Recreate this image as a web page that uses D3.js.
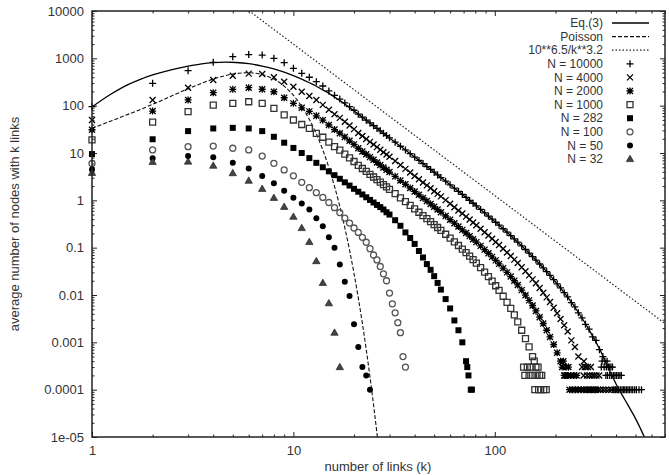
<!DOCTYPE html>
<html>
<head>
<meta charset="utf-8">
<script src="https://cdn.jsdelivr.net/npm/d3@7"></script>
<style>
  body { margin: 0; background: #fff; }
  svg { display: block; }
</style>
</head>
<body>
<div id="chart"></div>
<script>
// degree distributions, values (log-log)
var kGrid = [1,2,3,4,5,6,7,8,9,10,11,12,13,14,15,16,17,18,19,20,21,22,23,24,25,26,27,28,29,30,
  32,34,36,38,40,42,44,46,48,50,52,54,57,60,63,66,69,72,75,78,81,85,89,93,97,101,105,110,115,120,
  125,130,136,142,148,154,160,167,174,181,188,196,204,212,221,230,240,250,260,271,282,294,306,318,331,344];

var n10000 = [95,297,548,824,1083,1200,1170,1000,809,615, 483,398,321,260,205,165,138,114,95,80,
  66.2,57,49.4,43.1,37.8,33.2,29.4,26.1,23.3,20.9, 16.9,13.9,11.6,9.7,8.2,6.98,5.98,5.16,4.5,3.93,
  3.44,3.03,2.54,2.13,1.81,1.55,1.33,1.15,0.995,0.867, 0.76,0.643,0.545,0.466,0.399,0.344,0.298,0.251,0.212,0.179,
  0.153,0.131,0.109,0.0914,0.0767,0.0647,0.0548,0.0452,0.0374,0.0311, 0.0259,0.0211,0.0172,0.0141,0.0112,0.0091,0.0069,0.0056,0.0042,0.0033,
  0.0024,0.0019,0.0013,0.0011,0.0007,0.0005];
var n4000 = [50,132,240,348,430,475,465,398,321,251, 197,160,132,104,82,66,55.2,45.6,38,32,
  26.5,22.8,19.8,17.2,15.1,13.3,11.7,10.4,9.33,8.36, 6.78,5.56,4.62,3.87,3.27,2.79,2.39,2.07,1.8,1.56,
  1.37,1.21,1.01,0.847,0.716,0.612,0.525,0.453,0.392,0.34, 0.298,0.251,0.212,0.18,0.154,0.132,0.114,0.0946,0.0793,0.0664,
  0.0558,0.0473,0.0386,0.0317,0.026,0.0214,0.0177,0.0141,0.0112,0.0089, 0.0071,0.0054,0.0041,0.0031,0.0023,0.0017,0.0011,0.0008,0.0005,0.0003];
var n2000 = [31,77,132,188,221,240,222,197,147,112, 90,75.7,61,49.4,39,31.3,26.2,21.7,18.1,15.2,
  12.6,10.8,9.4,8.18,7.18,6.31,5.57,4.95,4.43,3.96, 3.21,2.62,2.18,1.82,1.54,1.31,1.12,0.966,0.839,0.73,
  0.638,0.561,0.467,0.39,0.329,0.279,0.238,0.204,0.175,0.151, 0.131,0.109,0.0908,0.0762,0.064,0.0538,0.0455,0.037,0.0301,0.0245,
  0.02,0.0163,0.0127,0.0099,0.0077,0.006,0.0046,0.0034,0.0025,0.0018, 0.0013,0.0009,0.0006,0.0004,0.0002];
var n1000 = [19,45,75,103,112,121,112,88,63.6,49.8, 40,33,26,21.5,17,13.7,11.5,9.46,7.89,6.62,
  5.48,4.71,4.08,3.55,3.11,2.73,2.42,2.15,1.92,1.71, 1.39,1.13,0.94,0.785,0.661,0.56,0.477,0.41,0.354,0.307,
  0.267,0.233,0.192,0.159,0.132,0.111,0.0929,0.0783,0.066,0.0557, 0.0472,0.038,0.0305,0.0245,0.0196,0.0157,0.0125,0.0094,0.007,0.0052,
  0.0038,0.0027,0.0018,0.0012,0.0008,0.0005];
var n282 = [9.5,19.5,29,33,34,33,29,22,16.5,12.8, 10,7.8,6.2,5,4.1,3.4,2.85,2.4,2.05,1.75,
  1.52,1.33,1.16,1.02,0.9,0.8,0.72,0.64,0.56,0.5, 0.38,0.29,0.21,0.16,0.12,0.085,0.062,0.045,0.034,0.025,
  0.018,0.013,0.0082,0.0052,0.0029,0.0018,0.001,0.0004];
// small networks: one value per k = 1, 2, 3, ...
var n100 = [6,11.6,13.6,14,12.6,11.6,8.6,6.05,4.4,3.3, 2.4,1.85,1.45,1.15,0.9,0.7,0.55,0.42,0.33,0.26,
  0.21,0.165,0.13,0.095,0.07,0.055,0.04,0.028,0.02,0.011, 0.0065,0.0042,0.0026,0.0016,0.0005,0.0003];
var n50 = [4.5,7.7,8.6,8.1,6.2,4.7,3.25,2.3,1.6,1.13, 0.86,0.64,0.42,0.285,0.166,0.1,0.044,0.019,0.0095,0.0024,
  0.0008,0.0003,0.0002,0.0001];
var n32 = [3.8,6.5,6.6,5.4,3.75,2.6,1.75,1.13,0.73,0.45, 0.26,0.132,0.052,0.018,0.0067,0.0016,0.0003];

// sparse tails: k values found at 1e-4, 2e-4, 3e-4, 4e-4
var tail10000 = [[390,398,405,412,420,428,435,442,450,458,466,475,484,495,505,520,535],
  [356,363,372,380,388,395,402,410,418,425], [338,349,358,366,370,377,384], [341,352,361]];
var tail4000 = [[292,302,310,318,326,334,345,356,368,380,395],
  [276,287,296,305,312,320,330], [280,283,290,300], [277]];
var tail2000 = [[235,243,251,260,268,277,288,300,315], [224,230,238,246,255], [216,226,232], [219]];
var tail1000 = [[158,165,169,175,180], [141,148,154,162,167,171], [139,145,151,160,164], [157]];
var tail282 = [[76,77], [74], [73]];

// curves
var kEq3 = [1,1.25,1.5,1.75,2,2.5,3,3.5,4,4.6,5.2,6,7,8,9,10,11,12,13,14,15,16,17,18,20,22,25,28,32,36,
  40,45,50,57,66,75,85,97,110,125,142,160,181,204,230,260,294,331,372,400,430,460,500,560];
var vEq3 = [94,178,275,365,445,580,685,765,810,830,817,771,687,596,511,431,364,305,257,215,182,153,129,108.6,77.5,
  57,37.8,26.1,16.9,11.6,8.2,5.56,3.93,2.54,1.55,0.995,0.643,0.399,0.251,0.153,0.0914,0.0548,0.0311,0.0172,0.00897,
  0.00427,0.00184,0.00073,0.00025,0.000132,0.000076,0.000046,0.0000245,0.0000089];
var kPoisson = [1,2,3,4,5,6,7,8,9,10,11,12,13,14,15,16,17,18,19,20,21,22,23,24,25,26,27];
var vPoisson = [33.3,106.6,227.4,363.9,465.8,496.8,454.2,363.4,258.4,165.4,96.2,51.3,25.3,11.55,4.93,1.97,
  0.742,0.264,0.0889,0.0284,0.00867,0.00252,0.000702,0.000187,0.0000479,0.0000118,0.0000028];
var kFit = [6, 700];
var vFit = [10230, 0.00249];

var yTickValues = [1e-5,1e-4,1e-3,1e-2,1e-1,1,10,100,1000,10000];
var yTickLabels = ['1e-05','0.0001','0.001','0.01','0.1','1','10','100','1000','10000'];
var xTickValues = [1,10,100];
var xTickLabels = ['1','10','100'];

var W = 669, H = 475;
var FONT = '"Liberation Sans", Arial, Helvetica, sans-serif';

var x = d3.scaleLog().domain([1, 700]).range([92, 665]);
var y = d3.scaleLog().domain([1e-5, 1e4]).range([437, 11]);

var svg = d3.select('#chart').append('svg')
    .attr('width', W)
    .attr('height', H)
    .attr('font-family', FONT);

svg.append('clipPath').attr('id', 'plotclip')
  .append('rect')
    .attr('x', 92).attr('y', 11)
    .attr('width', 665 - 92).attr('height', 437 - 11);

function isDecade(d) {
  var l = Math.log10(d);
  return Math.abs(l - Math.round(l)) < 1e-6;
}
var xMinor = x.ticks().filter(function(d) { return !isDecade(d); });
var yMinor = y.ticks().filter(function(d) { return !isDecade(d); });

function styleAxis(g) {
  g.select('.domain').remove();
  g.selectAll('line').attr('stroke', '#222').attr('stroke-width', 1);
  g.selectAll('text').attr('fill', '#333');
  g.attr('font-size', 13).attr('font-family', FONT);
}

// left + bottom, with labels
svg.append('g').attr('transform', 'translate(92,0)')
  .call(d3.axisLeft(y).tickValues(yTickValues).tickSize(-5).tickPadding(8)
    .tickFormat(function(d, i) { return yTickLabels[i]; }))
  .call(styleAxis);
svg.append('g').attr('transform', 'translate(92,0)')
  .call(d3.axisLeft(y).tickValues(yMinor).tickSize(-2.5).tickFormat(''))
  .call(styleAxis);
svg.append('g').attr('transform', 'translate(0,437)')
  .call(d3.axisBottom(x).tickValues(xTickValues).tickSize(-5).tickPadding(9)
    .tickFormat(function(d, i) { return xTickLabels[i]; }))
  .call(styleAxis);
svg.append('g').attr('transform', 'translate(0,437)')
  .call(d3.axisBottom(x).tickValues(xMinor).tickSize(-2.5).tickFormat(''))
  .call(styleAxis);
// mirrored ticks top + right
svg.append('g').attr('transform', 'translate(665,0)')
  .call(d3.axisRight(y).tickValues(yTickValues).tickSize(-5).tickFormat(''))
  .call(styleAxis);
svg.append('g').attr('transform', 'translate(665,0)')
  .call(d3.axisRight(y).tickValues(yMinor).tickSize(-2.5).tickFormat(''))
  .call(styleAxis);
svg.append('g').attr('transform', 'translate(0,11)')
  .call(d3.axisTop(x).tickValues(xTickValues).tickSize(-5).tickFormat(''))
  .call(styleAxis);
svg.append('g').attr('transform', 'translate(0,11)')
  .call(d3.axisTop(x).tickValues(xMinor).tickSize(-2.5).tickFormat(''))
  .call(styleAxis);

// curves
var line = d3.line()
    .x(function(d) { return x(d[0]); })
    .y(function(d) { return y(d[1]); })
    .curve(d3.curveMonotoneX);

var curves = [
  { name: 'Eq.(3)', k: kEq3, v: vEq3, dash: null, width: 1.3, color: '#000' },
  { name: 'Poisson', k: kPoisson, v: vPoisson, dash: '4,2', width: 1.1, color: '#111' },
  { name: '10**6.5/k**3.2', k: kFit, v: vFit, dash: '1.5,2', width: 1.2, color: '#222' }
];

var plot = svg.append('g').attr('clip-path', 'url(#plotclip)');
curves.forEach(function(c) {
  plot.append('path')
      .datum(d3.zip(c.k, c.v))
      .attr('d', line)
      .attr('fill', 'none')
      .attr('stroke', c.color)
      .attr('stroke-width', c.width)
      .attr('stroke-dasharray', c.dash);
});

// markers (gnuplot point types)
function markerPath(type) {
  var p = d3.path();
  if (type === 'plus' || type === 'star') {
    p.moveTo(-3.5, 0); p.lineTo(3.5, 0);
    p.moveTo(0, -3.5); p.lineTo(0, 3.5);
  }
  if (type === 'cross' || type === 'star') {
    p.moveTo(-3, -3); p.lineTo(3, 3);
    p.moveTo(-3, 3); p.lineTo(3, -3);
  }
  if (type === 'box' || type === 'fbox') p.rect(-3, -3, 6, 6);
  if (type === 'circle' || type === 'fcircle') { p.moveTo(3, 0); p.arc(0, 0, 3, 0, 2 * Math.PI); }
  if (type === 'tri') { p.moveTo(0, -3.8); p.lineTo(3.7, 2.6); p.lineTo(-3.7, 2.6); p.closePath(); }
  return p.toString();
}
var markStyle = {
  plus:    { fill: 'none', stroke: '#000', sw: 1.3 },
  cross:   { fill: 'none', stroke: '#000', sw: 1.3 },
  star:    { fill: 'none', stroke: '#000', sw: 1.3 },
  box:     { fill: 'none', stroke: '#333', sw: 1.3 },
  fbox:    { fill: '#000', stroke: 'none', sw: 0 },
  circle:  { fill: 'none', stroke: '#555', sw: 1.3 },
  fcircle: { fill: '#000', stroke: 'none', sw: 0 },
  tri:     { fill: '#444', stroke: '#111', sw: 0.6 }
};

var kInt = d3.range(1, 41);
var seriesList = [
  { name: 'N = 10000', k: kGrid, v: n10000, tail: tail10000, mark: 'plus' },
  { name: 'N = 4000',  k: kGrid, v: n4000,  tail: tail4000,  mark: 'cross' },
  { name: 'N = 2000',  k: kGrid, v: n2000,  tail: tail2000,  mark: 'star' },
  { name: 'N = 1000',  k: kGrid, v: n1000,  tail: tail1000,  mark: 'box' },
  { name: 'N = 282',   k: kGrid, v: n282,   tail: tail282,   mark: 'fbox' },
  { name: 'N = 100',   k: kInt,  v: n100,   tail: [],        mark: 'circle' },
  { name: 'N = 50',    k: kInt,  v: n50,    tail: [],        mark: 'fcircle' },
  { name: 'N = 32',    k: kInt,  v: n32,    tail: [],        mark: 'tri' }
];

seriesList.forEach(function(s) {
  var pts = s.v.map(function(v, i) { return [s.k[i], v]; });
  s.tail.forEach(function(ks, lvl) {
    ks.forEach(function(k) { pts.push([k, (lvl + 1) * 1e-4]); });
  });
  var st = markStyle[s.mark];
  var d = markerPath(s.mark);
  svg.append('g').selectAll('path')
    .data(pts)
    .enter().append('path')
      .attr('transform', function(p) { return 'translate(' + x(p[0]) + ',' + y(p[1]) + ')'; })
      .attr('d', d)
      .attr('fill', st.fill)
      .attr('stroke', st.stroke)
      .attr('stroke-width', st.sw);
});

// frame
svg.append('rect')
    .attr('x', 92).attr('y', 11)
    .attr('width', 665 - 92).attr('height', 437 - 11)
    .attr('fill', 'none')
    .attr('stroke', '#222')
    .attr('stroke-width', 1.5);

// legend
var legendNames = curves.map(function(c) { return c.name; })
  .concat(seriesList.map(function(s) { return s.name; }));
var legend = svg.append('g').attr('font-size', 12);
legendNames.forEach(function(name, i) {
  var ly = 23 + i * 13.6;
  legend.append('text')
      .attr('x', 603).attr('y', ly).attr('dy', '0.35em')
      .attr('text-anchor', 'end')
      .attr('fill', '#333')
      .text(name);
  if (i < curves.length) {
    var c = curves[i];
    legend.append('line')
        .attr('x1', 612).attr('x2', 649).attr('y1', ly).attr('y2', ly)
        .attr('stroke', c.color)
        .attr('stroke-width', c.width)
        .attr('stroke-dasharray', c.dash);
  } else {
    var s = seriesList[i - curves.length];
    var st = markStyle[s.mark];
    legend.append('path')
        .attr('transform', 'translate(630,' + ly + ')')
        .attr('d', markerPath(s.mark))
        .attr('fill', st.fill)
        .attr('stroke', st.stroke)
        .attr('stroke-width', st.sw);
  }
});

// axis titles
svg.append('text')
    .attr('x', 378).attr('y', 471)
    .attr('text-anchor', 'middle')
    .attr('font-size', 13)
    .attr('fill', '#333')
    .text('number of links (k)');
svg.append('text')
    .attr('transform', 'translate(19,224) rotate(-90)')
    .attr('text-anchor', 'middle')
    .attr('font-size', 13)
    .attr('fill', '#333')
    .text('average number of nodes with k links');
</script>
</body>
</html>
